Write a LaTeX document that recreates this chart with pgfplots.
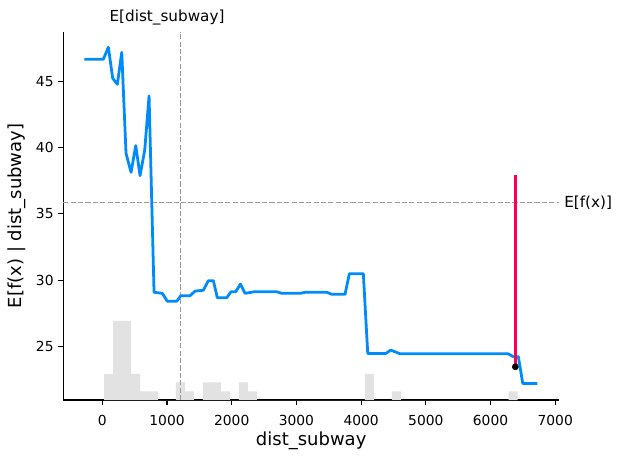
\documentclass[border=0pt]{standalone}
\usepackage{pgfplots}
\pgfplotsset{compat=1.18}
\usepackage{fontspec}
\setmainfont{DejaVu Sans}
\definecolor{shapblue}{HTML}{008BFB}
\definecolor{shapred}{HTML}{FF0051}
\definecolor{histgray}{RGB}{226,226,226}
\definecolor{refgray}{HTML}{999999}
\begin{document}
\begin{tikzpicture}
\useasboundingbox (-45.6bp,-42.5bp) rectangle (401.5bp,288.0bp);
\begin{axis}[
  at={(0,0)}, anchor=south west,
  scale only axis,
  width=356.9bp, height=265.2bp,
  xmin=-603, xmax=7059, ymin=20.99, ymax=48.72,
  axis x line*=bottom, axis y line*=left,
  axis line style={-, line width=0.8bp},
  tick align=outside,
  major tick length=3.5bp,
  every tick/.style={black, line width=0.8bp},
  xtick={0,1000,...,7000},
  ytick={25,30,35,40,45},
  minor tick num=0,
  scaled x ticks=false,
  /pgf/number format/assume math mode=true,
  /pgf/number format/1000 sep={},
  tick label style={font=\fontsize{10}{12}\selectfont},
  xticklabel style={yshift=-3.6bp},
  xlabel={dist\_subway},
  ylabel={E[f(x) | dist\_subway]},
  label style={font=\fontsize{13}{15}\selectfont},
  xlabel style={at={(axis description cs:0.5,-0.1105)}, anchor=center},
  ylabel style={at={(axis description cs:-0.0934,0.5)}, anchor=center},
  clip=false,
]
% histogram of feature values
\addplot[fill=histgray, draw=none, const plot mark left] coordinates {
 (26,20.99) (26,22.95) (165,26.94) (304,26.94) (443,22.95) (582,21.65) (721,21.65)
 (860,20.99) (1138,22.31) (1277,21.65) (1416,20.99) (1555,22.31) (1694,22.31)
 (1833,21.65) (1972,20.99) (2111,22.31) (2250,21.65) (2389,20.99)
 (4057,22.95) (4196,20.99) (4474,21.65) (4613,20.99) (6281,21.65) (6420,20.99)
};
% reference lines
\addplot[refgray, line width=1bp, dash pattern=on 3.7bp off 1.6bp] coordinates {(1212,20.99) (1212,48.72)};
\addplot[refgray, line width=1bp, dash pattern=on 3.7bp off 1.6bp] coordinates {(-603,35.84) (7059,35.84)};
% partial dependence
\addplot[shapblue, line width=2bp, line join=round] coordinates {
 (-278,46.64) (15,46.64) (93,47.55) (160,45.21) (232,44.76) (300,47.17) (366,39.56)
 (444,38.13) (516,40.14) (583,37.88) (655,39.81) (722,43.88) (799,29.10) (928,29.02)
 (1005,28.42) (1150,28.42) (1212,28.84) (1355,28.84) (1433,29.19) (1561,29.25)
 (1638,29.97) (1716,29.97) (1777,28.69) (1923,28.69) (1989,29.14) (2062,29.14)
 (2133,29.72) (2205,29.02) (2345,29.14) (2695,29.14) (2773,29.02) (3056,29.02)
 (3133,29.10) (3468,29.10) (3546,28.95) (3751,28.95) (3818,30.50) (4034,30.50)
 (4102,24.50) (4385,24.50) (4457,24.75) (4601,24.47) (6275,24.47) (6352,24.25)
 (6430,24.25) (6498,22.24) (6723,22.24)
};
% instance
\addplot[shapred, line width=2bp] coordinates {(6383,23.49) (6383,37.93)};
\addplot[only marks, mark=*, mark size=2.2bp, black] coordinates {(6383,23.49)};
\node[font=\fontsize{11}{13}\selectfont, anchor=center] at (axis description cs:0.2092,1.0386) {E[dist\_subway]};
\node[font=\fontsize{11}{13}\selectfont, anchor=west, inner sep=0pt, xshift=3.6bp] at (axis cs:7059,35.84) {E[f(x)]};
\end{axis}
\end{tikzpicture}
\end{document}
